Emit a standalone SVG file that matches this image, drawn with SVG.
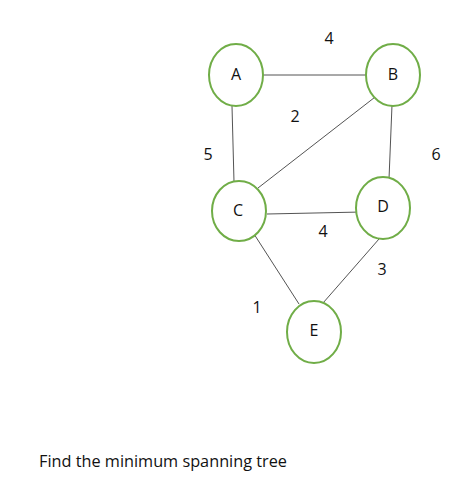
<svg xmlns="http://www.w3.org/2000/svg" width="474" height="502" viewBox="0 0 474 502">
<style>
.n{fill:#fff;stroke:#70AD47;stroke-width:2}
.e{stroke:#404040;stroke-width:0.9;fill:none}
text{font-family:"Open Sans","Liberation Sans",sans-serif;font-size:16px;fill:#111}
.l{text-anchor:middle;dominant-baseline:central}
</style>
<rect width="474" height="502" fill="#fff"/>
<g id="connectors">
<line class="e" x1="263" y1="75" x2="372" y2="75"/>
<line class="e" x1="232" y1="106" x2="234" y2="182"/>
<line class="e" x1="392" y1="105" x2="389" y2="179"/>
<line class="e" x1="258" y1="188" x2="379" y2="94"/>
<line class="e" x1="267" y1="214" x2="362" y2="212"/>
<line class="e" x1="254" y1="234" x2="299" y2="304"/>
<line class="e" x1="379" y1="239" x2="323" y2="303"/>
</g>
<g id="A"><ellipse class="n" cx="236" cy="75" rx="27" ry="31"/><text class="l" x="236" y="74">A</text></g>
<g id="B"><ellipse class="n" cx="393" cy="75" rx="27" ry="31"/><text class="l" x="393" y="74">B</text></g>
<g id="C"><ellipse class="n" cx="239" cy="211" rx="27" ry="30"/><text class="l" x="238" y="210">C</text></g>
<g id="D"><ellipse class="n" cx="383" cy="208" rx="27" ry="31"/><text class="l" x="383" y="206">D</text></g>
<g id="E"><ellipse class="n" cx="314" cy="332" rx="27" ry="31"/><text class="l" x="314" y="330">E</text></g>
<g id="labels">
<text class="l" x="329" y="38">4</text>
<text class="l" x="295" y="116">2</text>
<text class="l" x="208" y="154">5</text>
<text class="l" x="436" y="154">6</text>
<text class="l" x="323" y="231">4</text>
<text class="l" x="382" y="269">3</text>
<text class="l" x="257" y="307">1</text>
</g>
<text x="39" y="467" style="font-size:15.5px" textLength="248" lengthAdjust="spacingAndGlyphs">Find the minimum spanning tree</text>
</svg>
